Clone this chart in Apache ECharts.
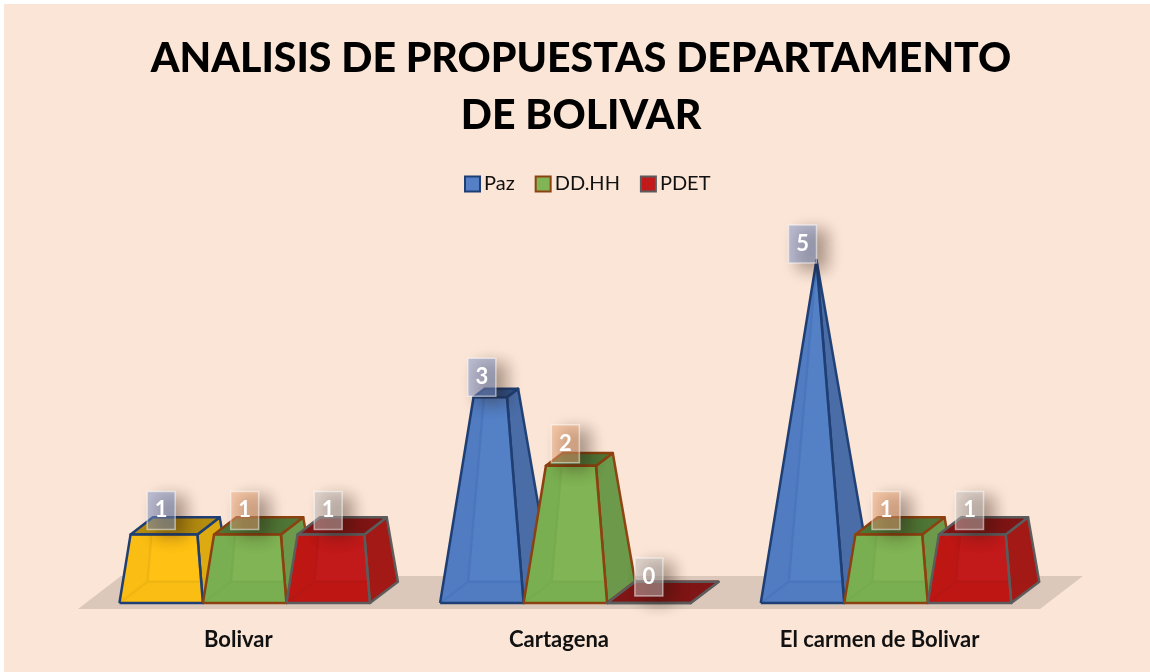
<!DOCTYPE html>
<html><head><meta charset="utf-8">
<style>html,body{margin:0;padding:0;background:#fff;overflow:hidden}#bg{position:absolute;left:4px;top:4px;width:1146px;height:668px;background:#fbe5d6}#c{position:absolute;left:0;top:0;width:1150px;height:672px}</style>
<script src="https://cdn.jsdelivr.net/npm/echarts@6/dist/echarts.min.js"></script>
</head><body><div id="bg"></div><div id="c"></div>
<script>
const titleText = 'ANALISIS DE PROPUESTAS DEPARTAMENTO\nDE BOLIVAR';
const categories = ['Bolivar', 'Cartagena', 'El carmen de Bolivar'];
const seriesNames = ['Paz', 'DD.HH', 'PDET'];
const paz = [1, 3, 5];
const ddhh = [1, 2, 1];
const pdet = [1, 0, 1];
const axisMax = 5;

const palettes = {
  blue:   {front:'#5580c6', side:'#4a6ca6', top:'#2f5289', left:'#4a74b8', inner:'#2f5fa8', edge:'#1f3f74', box:'rgba(125,150,205,0.5)'},
  yellow: {front:'#ffc014', side:'#dca912', top:'#b48c10', left:'#eeb212', inner:'#c4960f', edge:'#1f3f74', box:'rgba(125,150,205,0.5)'},
  green:  {front:'#80b455', side:'#6b984a', top:'#4f7636', left:'#69a349', inner:'#64953a', edge:'#8c4210', box:'rgba(240,170,122,0.5)'},
  red:    {front:'#c21a1a', side:'#a11a16', top:'#801515', left:'#b40e03', inner:'#9c0f06', edge:'#5c5c5c', box:'rgba(198,194,192,0.5)'}
};
const seriesPalettes = ['blue', 'green', 'red'];

function pairs(values){ return values.map(function(v,i){ return [i,v]; }); }
function mix(a,b,t){ return [a[0]+(b[0]-a[0])*t, a[1]+(b[1]-a[1])*t]; }

function pyramid(si){
  return function(params, api){
    const cat = api.value(0), v = api.value(1);
    const base = api.coord([cat,0]);
    const apexY = api.coord([cat,axisMax])[1];
    const band = api.size([1,0])[0];
    const w = band*0.2604;
    const dx = w*0.335, dy = 21.3;
    const left = base[0] - band*0.3708 + si*w;
    const y0 = base[1];
    const FL=[left,y0], FR=[left+w,y0], BR=[left+w+dx,y0-dy], BL=[left+dx,y0-dy];
    const apex=[left+w/2+dx/2, apexY];
    const t=v/axisMax;
    const tFL=mix(FL,apex,t), tFR=mix(FR,apex,t), tBR=mix(BR,apex,t), tBL=mix(BL,apex,t);
    const pal = palettes[(si===0 && cat===0) ? 'yellow' : seriesPalettes[si]];
    const poly=function(pts,fill,stroke,op,lw){
      return {type:'polygon',shape:{points:pts},style:{fill:fill,stroke:stroke||null,lineWidth:lw||2.5,opacity:op==null?1:op,lineJoin:'round'}};
    };
    const line=function(a,b){
      return {type:'line',shape:{x1:a[0],y1:a[1],x2:b[0],y2:b[1]},style:{stroke:pal.inner,lineWidth:2.5}};
    };
    const cx = left+w/2;
    const boxCy = tFL[1]-26+2*v;
    const children=[
      poly([BL,BR,tBR,tBL],pal.front),
      poly([FL,BL,tBL,tFL],pal.left),
      poly([FL,FR,BR,BL],pal.left),
      line(BL,tBL), line(BL,BR), line(BL,FL),
      poly([FR,BR,tBR,tFR],pal.side,pal.edge,0.97),
      poly([tFL,tFR,tBR,tBL],pal.top,pal.edge),
      poly([FL,FR,tFR,tFL],pal.front,null,0.72),
      {type:'polyline',shape:{points:[FL,FR,tFR,tFL,FL]},style:{fill:null,stroke:pal.edge,lineWidth:2.5,lineJoin:'round'}},
      {type:'rect',z2:100,shape:{x:cx-14,y:boxCy-19,width:28,height:38},
        style:{fill:pal.box,stroke:'rgba(255,255,255,0.5)',lineWidth:1.5,shadowColor:'rgba(40,20,10,0.75)',shadowBlur:16,shadowOffsetX:10,shadowOffsetY:6}},
      {type:'text',z2:101,style:{text:String(v),x:cx,y:boxCy,align:'center',verticalAlign:'middle',fill:'#fff',font:'bold 22px Lato, "Open Sans", sans-serif'}}
    ];
    return {type:'group',children:children};
  };
}

function floorItem(params, api){
  const cs=params.coordSys;
  const fy=cs.y+cs.height+6, by=cs.y+cs.height-27;
  return {type:'polygon',shape:{points:[[cs.x,fy],[cs.x+cs.width,fy],[cs.x+cs.width+43,by],[cs.x+43,by]]},style:{fill:'#dbc8bb'}};
}

const valueLists=[paz,ddhh,pdet];
const series=[{type:'custom',name:'floor',silent:true,data:[[0,0]],encode:{x:0,y:1},renderItem:floorItem}];
seriesNames.forEach(function(n,i){
  const pal=palettes[seriesPalettes[i]];
  series.push({type:'custom',name:n,data:pairs(valueLists[i]),encode:{x:0,y:1},
    itemStyle:{color:pal.front,borderColor:pal.edge,borderWidth:2},renderItem:pyramid(i)});
});

const chart=echarts.init(document.getElementById('c'),null,{renderer:'canvas'});
chart.setOption({
  animation:false,
  backgroundColor:'transparent',
  title:{text:titleText,left:576,top:25,textAlign:'center',
    textStyle:{fontFamily:'Lato',fontWeight:900,fontSize:41,lineHeight:57,color:'#000'}},
  legend:{left:464,top:174,icon:'rect',itemWidth:15,itemHeight:15,itemGap:20,padding:0,
    data:seriesNames.map(function(n,i){
      const pal=palettes[seriesPalettes[i]];
      return {name:n,itemStyle:{color:pal.front,borderColor:pal.edge,borderWidth:2}};
    }),
    textStyle:{fontFamily:'Lato',fontSize:20,color:'#111',padding:[0,0,0,-1]}},
  grid:{left:78,right:110,top:260,bottom:69,containLabel:false},
  xAxis:{type:'category',data:categories,axisLine:{show:false},axisTick:{show:false},
    axisLabel:{margin:26,fontFamily:'Lato',fontWeight:'bold',fontSize:22,color:'#111'}},
  yAxis:{type:'value',min:0,max:axisMax,interval:1,show:false,splitLine:{show:false}},
  series:series
});
</script></body></html>
